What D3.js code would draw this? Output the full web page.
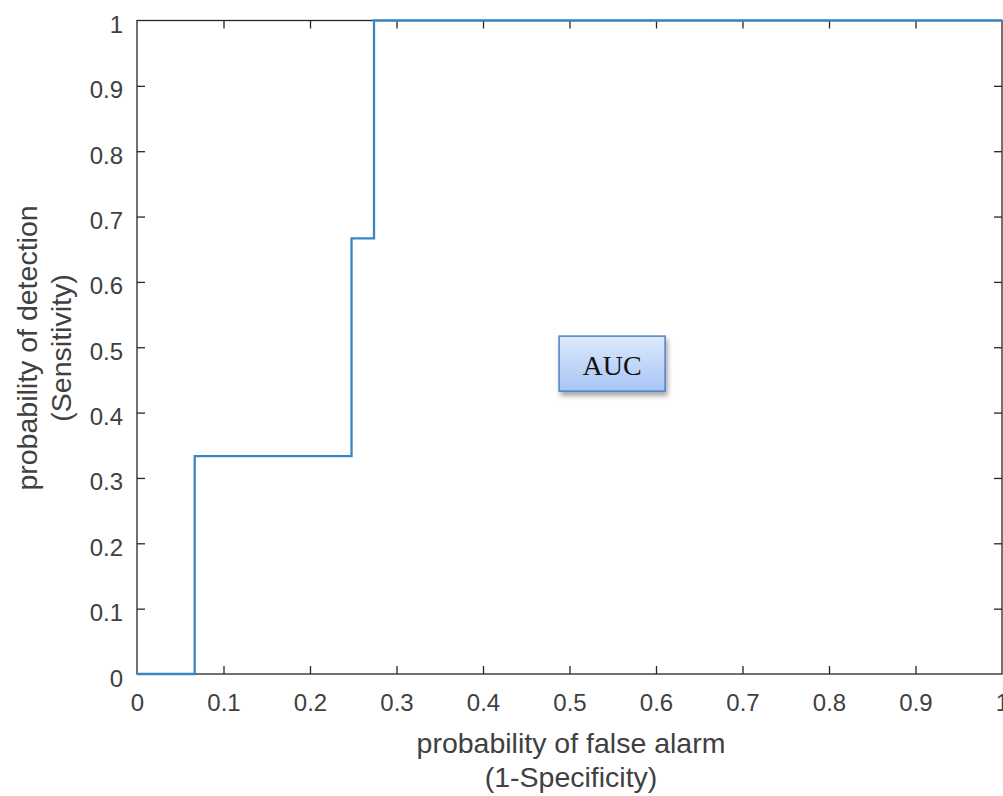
<!DOCTYPE html>
<html>
<head>
<meta charset="utf-8">
<script src="https://cdn.jsdelivr.net/npm/d3@7"></script>
<style>
  html, body { margin: 0; padding: 0; background: #fff; }
  svg { display: block; }
</style>
</head>
<body>
<svg id="chart" width="1003" height="796"></svg>
<script>
// ROC curve points (false alarm rate, detection rate)
const falseAlarm = [0, 0.0667, 0.0667, 0.248, 0.248, 0.274, 0.274, 1];
const detection  = [0, 0, 0.3333, 0.3333, 0.6667, 0.6667, 1, 1];
const xTicks = [0, 0.1, 0.2, 0.3, 0.4, 0.5, 0.6, 0.7, 0.8, 0.9, 1];
const yTicks = [0, 0.1, 0.2, 0.3, 0.4, 0.5, 0.6, 0.7, 0.8, 0.9, 1];
const xLabelLines = ["probability of false alarm", "(1-Specificity)"];
const yLabelLines = ["probability of detection", "(Sensitivity)"];
const boxText = "AUC";

const svg = d3.select("#chart");
const plotLeft = 137, plotRight = 1002, plotTop = 20.5, plotBottom = 674;
const x = d3.scaleLinear().domain([0, 1]).range([plotLeft, plotRight]);
const y = d3.scaleLinear().domain([0, 1]).range([plotBottom, plotTop]);

const axisColor = "#262626";
const textColor = "#404040";
const font = "'Liberation Sans', Arial, sans-serif";
const curveColor = "#3a86c2";

const defs = svg.append("defs");
const grad = defs.append("linearGradient").attr("id", "boxFill")
  .attr("x1", 0).attr("y1", 0).attr("x2", 0).attr("y2", 1);
grad.append("stop").attr("offset", "0%").attr("stop-color", "#dfe9fc");
grad.append("stop").attr("offset", "100%").attr("stop-color", "#a7c5f5");
const shadow = defs.append("filter").attr("id", "boxShadow")
  .attr("x", "-20%").attr("y", "-20%").attr("width", "150%").attr("height", "160%");
shadow.append("feDropShadow").attr("dx", 2).attr("dy", 4).attr("stdDeviation", 2.5)
  .attr("flood-color", "#000").attr("flood-opacity", 0.35);

const line = d3.line().x((d, i) => x(falseAlarm[i])).y(d => y(d));

// Axes with inward ticks on all four sides
const tickLen = 8;
const inner = v => v !== 0 && v !== 1;
const fmt = d => d3.format("~g")(d);

function style(g) {
  g.select(".domain").remove();
  g.selectAll(".tick line").attr("stroke", axisColor).attr("stroke-width", 1.3);
  g.selectAll(".tick").filter(d => !inner(d)).select("line").remove();
  g.selectAll(".tick text").attr("fill", textColor)
    .attr("font-family", font).attr("font-size", 24);
}
svg.append("g").attr("transform", `translate(0,${plotBottom})`)
  .call(d3.axisBottom(x).tickValues(xTicks).tickSize(-tickLen).tickPadding(20).tickFormat(fmt))
  .call(style);
svg.append("g").attr("transform", `translate(0,${plotTop})`)
  .call(d3.axisTop(x).tickValues(xTicks).tickSize(-tickLen).tickFormat(""))
  .call(style);
svg.append("g").attr("transform", `translate(${plotLeft},0)`)
  .call(d3.axisLeft(y).tickValues(yTicks).tickSize(-tickLen).tickPadding(14).tickFormat(fmt))
  .call(style)
  .selectAll(".tick text").attr("dy", "0.5em");
svg.append("g").attr("transform", `translate(${plotRight},0)`)
  .call(d3.axisRight(y).tickValues(yTicks).tickSize(-tickLen).tickFormat(""))
  .call(style);

// Axes frame
svg.append("rect")
  .attr("x", plotLeft).attr("y", plotTop)
  .attr("width", plotRight - plotLeft).attr("height", plotBottom - plotTop)
  .attr("fill", "none").attr("stroke", axisColor).attr("stroke-width", 1.3);

// ROC step curve, drawn over the frame
svg.append("path")
  .datum(detection)
  .attr("d", line)
  .attr("fill", "none")
  .attr("stroke", curveColor)
  .attr("stroke-width", 2.3);

// Axis titles
const xLab = svg.append("text")
  .attr("text-anchor", "middle")
  .attr("fill", textColor).attr("font-family", font).attr("font-size", 28.5);
xLabelLines.forEach((t, i) => {
  xLab.append("tspan").attr("x", 571).attr("y", 753 + i * 34).text(t);
});
const yLab = svg.append("text")
  .attr("transform", "rotate(-90)")
  .attr("text-anchor", "middle")
  .attr("fill", textColor).attr("font-family", font).attr("font-size", 28.5);
yLabelLines.forEach((t, i) => {
  yLab.append("tspan").attr("x", -348).attr("y", 37 + i * 34).text(t);
});

// Annotation box
const bx = x(0.488), by = y(0.517), bw = 106, bh = 55;
svg.append("rect")
  .attr("x", bx).attr("y", by).attr("width", bw).attr("height", bh)
  .attr("fill", "url(#boxFill)")
  .attr("stroke", "#4f82c6").attr("stroke-width", 1.5)
  .attr("filter", "url(#boxShadow)");
svg.append("text")
  .attr("x", bx + bw / 2).attr("y", by + bh / 2 + 11)
  .attr("text-anchor", "middle")
  .attr("font-family", "'Liberation Serif', 'Times New Roman', serif")
  .attr("font-size", 28).attr("fill", "#111")
  .text(boxText);
</script>
</body>
</html>
